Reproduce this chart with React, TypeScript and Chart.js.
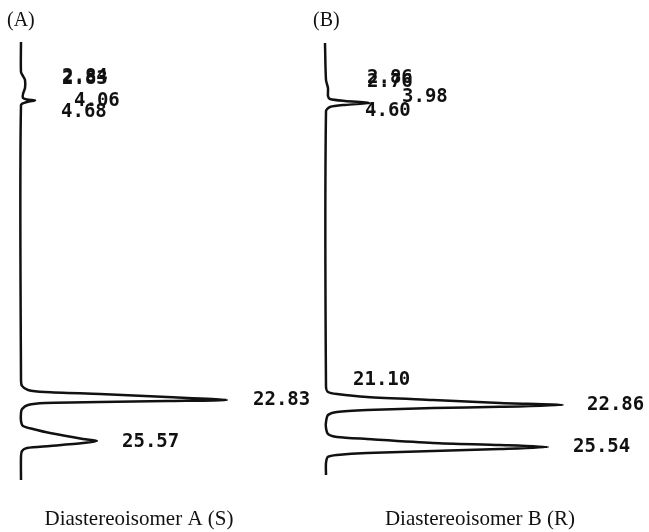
import React, { useEffect, useRef } from "react";
import { Chart, registerables } from "chart.js";

Chart.register(...registerables);

// ---- Diastereoisomer A (S): retention time (min) vs detector signal (a.u.)
const timeA = [-1.1, 0.91, 1.18, 1.44, 1.98, 2.38, 2.65, 2.75, 2.81, 2.91, 3.12, 21.49, 21.89, 22.16, 22.3, 22.43, 22.63, 22.83, 22.9, 22.97, 23.03, 23.17, 23.44, 23.7, 24.24, 24.57, 24.77, 25.04, 25.44, 25.57, 25.71, 25.91, 26.04, 26.24, 26.58, 28.18];
const signalA = [0, 0, 1, 2, 2, 1, 1, 3, 7, 3, 0, 0, 0.5, 3.5, 12, 39.5, 73, 103, 73, 39.5, 12, 3.5, 0.5, 0, 0, 1, 6, 14.5, 31, 38, 31, 14.5, 3, 0.5, 0, 0];

// ---- Diastereoisomer B (R)
const timeB = [-0.24, 2.12, 2.63, 3.14, 3.33, 3.46, 3.59, 3.71, 3.84, 4.1, 21.71, 22.03, 22.16, 22.35, 22.54, 22.73, 22.86, 22.98, 23.05, 23.18, 23.3, 23.5, 23.94, 24.33, 24.71, 24.9, 25.03, 25.28, 25.41, 25.54, 25.67, 25.8, 25.92, 26.05, 26.17, 26.56, 27.33];
const signalB = [-0.5, 0, 1, 1, 2, 9.5, 22, 9.5, 2, 0, 0, 1, 5.5, 20.5, 53.5, 87, 118.5, 87, 53.5, 20.5, 5.5, 1, 0, 0, 1, 5.5, 20.5, 53.5, 87, 111, 87, 53.5, 20.5, 5.5, 1, 0, 0];

// ---- Printed retention-time labels (text, anchor time, anchor signal)
const labelTextA = ["2.84", "2.83", "4.06", "4.68", "22.83", "25.57"];
const labelTimeA = [1.24, 1.38, 2.85, 3.58, 22.83, 25.64];
const labelSignalA = [20.5, 20.5, 26.5, 20, 116, 50.5];

const labelTextB = ["2.86", "2.76", "3.98", "4.60", "21.10", "22.86", "25.54"];
const labelTimeB = [1.99, 2.25, 3.2, 4.1, 21.26, 22.86, 25.54];
const labelSignalB = [20.5, 20.5, 38, 19.5, 13.5, 130.5, 123.5];

const panelTags = ["(A)", "(B)"];
const captions = ["Diastereoisomer A (S)", "Diastereoisomer B (R)"];

const textPlugin = {
  id: "peakText",
  afterDatasetsDraw(chart: any, _args: any, opts: any) {
    const { ctx, scales } = chart;
    ctx.save();
    ctx.fillStyle = "#111";
    ctx.textAlign = "left";
    ctx.textBaseline = "middle";
    ctx.font = 'bold 19px "DejaVu Sans Mono", monospace';
    opts.texts.forEach((txt: string, i: number) => {
      ctx.fillText(
        txt,
        scales.x.getPixelForValue(opts.signals[i]),
        scales.y.getPixelForValue(opts.times[i])
      );
    });
    ctx.font = '20px "Liberation Serif", serif';
    ctx.fillText(opts.tag, opts.tagX, opts.tagY);
    ctx.font = '21px "Liberation Serif", serif';
    ctx.textAlign = "center";
    ctx.fillText(opts.caption, opts.capX, opts.capY);
    ctx.restore();
  },
};

function makeChart(canvas: HTMLCanvasElement, cfg: any) {
  const data = cfg.times.map((t: number, i: number) => ({ x: cfg.signals[i], y: t }));
  return new Chart(canvas, {
    type: "scatter",
    data: {
      datasets: [
        {
          data,
          showLine: true,
          borderColor: "#111",
          borderWidth: 2.5,
          pointRadius: 0,
          tension: 0.25,
          fill: false,
        },
      ],
    },
    options: {
      animation: false,
      responsive: false,
      devicePixelRatio: 1,
      layout: { padding: cfg.padding },
      scales: {
        x: { type: "linear", min: -5, max: 145, display: false },
        y: { type: "linear", min: cfg.yMin, max: cfg.yMax, reverse: true, display: false },
      },
      plugins: {
        legend: { display: false },
        tooltip: { enabled: false },
        peakText: {
          texts: cfg.labelText,
          times: cfg.labelTime,
          signals: cfg.labelSignal,
          tag: cfg.tag,
          tagX: cfg.tagX,
          tagY: 21,
          caption: cfg.caption,
          capX: cfg.capX,
          capY: 519,
        },
      } as any,
    },
    plugins: [textPlugin],
  });
}

export default function App() {
  const refA = useRef<HTMLCanvasElement>(null);
  const refB = useRef<HTMLCanvasElement>(null);

  useEffect(() => {
    const a = makeChart(refA.current!, {
      times: timeA,
      signals: signalA,
      labelText: labelTextA,
      labelTime: labelTimeA,
      labelSignal: labelSignalA,
      padding: { left: 11, right: 9, top: 28.5, bottom: 24.8 },
      yMin: -2,
      yMax: 30,
      tag: panelTags[0],
      tagX: 7,
      caption: captions[0],
      capX: 139,
    });
    const b = makeChart(refB.current!, {
      times: timeB,
      signals: signalB,
      labelText: labelTextB,
      labelTime: labelTimeB,
      labelSignal: labelSignalB,
      padding: { left: 16, right: 33, top: 15.46, bottom: 30.8 },
      yMin: -2,
      yMax: 29,
      tag: panelTags[1],
      tagX: 13,
      caption: captions[1],
      capX: 180,
    });
    return () => {
      a.destroy();
      b.destroy();
    };
  }, []);

  return (
    <div style={{ position: "absolute", left: 0, top: 0, width: 649, height: 532, background: "#fff" }}>
      <canvas ref={refA} width={320} height={532} style={{ position: "absolute", left: 0, top: 0 }} />
      <canvas ref={refB} width={349} height={532} style={{ position: "absolute", left: 300, top: 0 }} />
    </div>
  );
}
